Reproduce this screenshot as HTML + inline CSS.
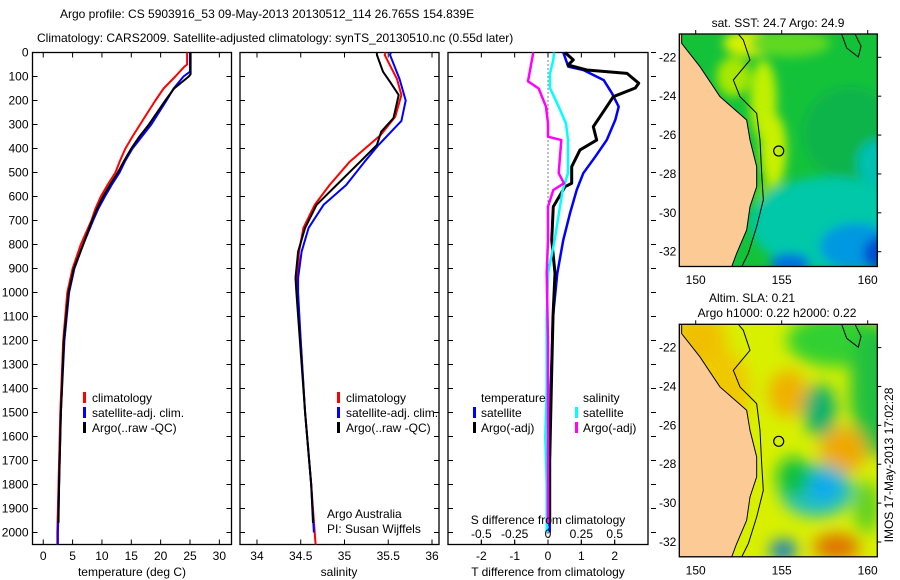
<!DOCTYPE html>
<html><head><meta charset="utf-8"><style>
html,body{margin:0;padding:0;background:#fff;}
svg{display:block;font-family:"Liberation Sans",sans-serif;}
text{font-size:12px;fill:#000;}
</style></head><body>
<svg id="c" width="900" height="580" viewBox="0 0 900 580" xmlns="http://www.w3.org/2000/svg">
<text x="60" y="18">Argo profile: CS 5903916_53 09-May-2013 20130512_114 26.765S 154.839E</text>
<text x="37" y="42">Climatology: CARS2009. Satellite-adjusted climatology: synTS_20130510.nc (0.55d later)</text>
<g id="maps"></g>
<g id="plots"></g>
</svg>
<script>
// ---- data ----
const depthTicks=[0,100,200,300,400,500,600,700,800,900,1000,1100,1200,1300,1400,1500,1600,1700,1800,1900,2000];
const tempTicks=[0,5,10,15,20,25,30];
const salTicks=[34,34.5,35,35.5,36];
const salTickLabels=["34","34.5","35","35.5","36"];
const dTTicks=[-2,-1,0,1,2];
const dSTicks=[-0.5,-0.25,0,0.25,0.5];
const dSTickLabels=["-0.5","-0.25","0","0.25","0.5"];

const tClimDepth=[0,50,60,100,150,200,250,300,350,400,450,500,550,600,650,700,800,900,1000,1200,1500,1800,2000,2050];
const tClim=[24.5,24.5,24.0,22.5,20.5,19.1,17.8,16.5,15.2,14.0,13.1,12.3,11.0,9.8,8.9,8.2,6.4,5.0,4.1,3.4,2.9,2.6,2.4,2.4];
const tSatDepth=[0,80,100,150,200,250,300,350,400,450,500,550,600,650,700,800,900,1000,1200,1500,1800,2000,2050];
const tSat=[25.0,25.0,23.9,22.2,21.0,19.7,18.4,16.8,15.2,14.0,13.0,11.7,10.5,9.4,8.5,6.8,5.3,4.4,3.6,3.0,2.7,2.5,2.5];
const tArgoDepth=[0,90,100,150,200,250,300,350,400,450,500,550,600,650,700,800,900,1000,1200,1500,1800,1960];
const tArgo=[25.1,25.1,24.8,22.3,20.8,19.4,18.0,16.4,15.0,13.8,12.7,11.4,10.2,9.2,8.3,6.8,5.2,4.3,3.5,3.0,2.7,2.6];

const sClimDepth=[0,10,111,177,268,345,455,552,635,731,830,940,1000,1200,1500,1800,2000,2050];
const sClim=[35.47,35.46,35.60,35.65,35.58,35.41,35.06,34.83,34.66,34.53,34.48,34.46,34.46,34.50,34.55,34.62,34.66,34.67];
const sSatDepth=[0,10,111,200,285,385,455,552,635,731,830,940,1000,1200,1500,1800,2000];
const sSat=[35.53,35.52,35.63,35.70,35.65,35.39,35.23,35.02,34.76,34.59,34.51,34.47,34.47,34.50,34.55,34.62,34.65];
const sArgoDepth=[0,10,80,122,177,273,330,385,455,552,635,731,830,940,1000,1200,1500,1800,1960];
const sArgo=[35.37,35.37,35.44,35.52,35.62,35.56,35.42,35.37,35.18,34.91,34.68,34.55,34.47,34.44,34.45,34.49,34.55,34.62,34.64];

const dTSatDepth=[0,59,73,115,170,226,281,365,434,503,573,670,781,920,1100,1400,1700,2000];
const dTSat=[0.46,0.61,1.06,1.67,1.92,2.12,2.02,1.76,1.42,1.06,0.86,0.66,0.46,0.28,0.15,0.08,0.05,0.05];
const dTArgoDepth=[0,31,52,73,87,128,148,184,226,309,365,406,476,545,559,642,781,920,1100,1400,1700,1960];
const dTArgo=[0.51,0.76,0.60,1.16,2.37,2.72,2.62,1.96,1.76,1.36,1.46,0.96,0.71,0.71,0.51,0.16,0.11,0.21,0.15,0.1,0.05,0.05];
const dSSatDepth=[0,31,87,148,226,296,365,503,573,642,781,920,1100,1400,1600,1800,2000];
const dSSat=[0.045,0.04,0.015,0.015,0.08,0.135,0.15,0.15,0.11,0.09,0.05,0.0,-0.01,-0.01,-0.02,-0.01,-0.01];
const dSArgoDepth=[0,59,120,150,226,296,351,365,503,545,573,642,781,920,1200,1500,1800,1960];
const dSArgo=[-0.11,-0.13,-0.15,-0.07,-0.015,0.0,0.0,0.10,0.08,0.12,0.04,0.0,0.0,-0.01,0.0,0.0,0.0,0.0];

// ---- helpers ----
const NS="http://www.w3.org/2000/svg";
function mk(tag,attrs,parent){const e=document.createElementNS(NS,tag);for(const k in attrs)e.setAttribute(k,attrs[k]);(parent||plots).appendChild(e);return e;}
const plots=document.getElementById('plots');
const maps=document.getElementById('maps');
const Y0=52.5,YB=544.5;
function yD(d){return Y0+d*0.24;}

function panel(name,left,right,xmin,xmax){
  const p={left,right,xmin,xmax,x:v=>left+(v-xmin)/(xmax-xmin)*(right-left)};
  const r=mk('rect',{x:left,y:Y0,width:right-left,height:YB-Y0,fill:'none',stroke:'#000','stroke-width':1.3});
  
  
  return p;
}
function line(p,xs,ds,color,w,name){
  let d='';
  for(let i=0;i<xs.length;i++){d+=(i?'L':'M')+p.x(xs[i]).toFixed(1)+','+yD(ds[i]).toFixed(1);}
  const e=mk('path',{d:d,fill:'none',stroke:color,'stroke-width':w,'stroke-linejoin':'round'});
  
  
}
function depthTicksOn(p,labels,outside){
  depthTicks.forEach(t=>{
    const y=yD(t);
    const t1=mk('line',{x1:p.left,x2:p.left+5,y1:y,y2:y,stroke:'#000'});
    
    
    const t2=outside?mk('line',{x1:p.right+3,x2:p.right+8,y1:y,y2:y,stroke:'#000'}):mk('line',{x1:p.right-5,x2:p.right,y1:y,y2:y,stroke:'#000'});
    
    
    if(labels){
      const tx=mk('text',{x:p.left-4,y:y+4,'text-anchor':'end'});tx.textContent=t;
      
      
    }
  });
}
function xTicks(p,ticks,labels,ylab,top){
  ticks.forEach((t,i)=>{
    const x=p.x(t);
    const a=mk('line',{x1:x,x2:x,y1:YB,y2:YB-5,stroke:'#000'});
    
    
    if(top){const b=mk('line',{x1:x,x2:x,y1:Y0,y2:Y0+5,stroke:'#000'});
      
      }
    const tx=mk('text',{x:x,y:ylab,'text-anchor':'middle'});tx.textContent=labels?labels[i]:t;
    
    
  });
}
function txt(x,y,s,name,anchor){const e=mk('text',{x:x,y:y,'text-anchor':anchor||'start'});e.textContent=s;
  
  return e;}
function legBar(x,y,color,name){const e=mk('rect',{x:x,y:y-10,width:3,height:11,fill:color});
  
  }

// Panel 1: temperature
const p1=panel('temperature-panel',32.5,231.5,-1.83,32.07);
line(p1,tClim,tClimDepth,'#f00',2,'temp-climatology-line');
line(p1,tSat,tSatDepth,'#00f',2,'temp-satellite-line');
line(p1,tArgo,tArgoDepth,'#000',2,'temp-argo-line');
depthTicksOn(p1,true,false);
xTicks(p1,tempTicks,null,560,true);
txt(132,576,'temperature (deg C)','x-axis-title-temperature','middle');
[['#f00','climatology'],['#00f','satellite-adj. clim.'],['#000','Argo(..raw -QC)']].forEach((l,i)=>{
  legBar(83,402+i*15,l[0],'legend-swatch');txt(92,402+i*15,l[1],'legend-entry');});

// Panel 2: salinity
const p2=panel('salinity-panel',240,439,33.806,36.08);
line(p2,sClim,sClimDepth,'#f00',2,'sal-climatology-line');
line(p2,sSat,sSatDepth,'#00f',2,'sal-satellite-line');
line(p2,sArgo,sArgoDepth,'#000',2,'sal-argo-line');
depthTicksOn(p2,false,false);
xTicks(p2,salTicks,salTickLabels,560,true);
txt(339,576,'salinity','x-axis-title-salinity','middle');
[['#f00','climatology'],['#00f','satellite-adj. clim.'],['#000','Argo(..raw -QC)']].forEach((l,i)=>{
  legBar(337,402+i*15,l[0],'legend-swatch');txt(346,402+i*15,l[1],'legend-entry');});
txt(327,518,'Argo Australia','credit-argo-australia');
txt(327,533,'PI: Susan Wijffels','credit-pi');

// Panel 3: differences
const p3=panel('difference-panel',448,648,-3.0,3.0);
const pS={x:v=>p3.x(v*4)};
for(let y=Y0;y<YB;y+=4){mk('rect',{x:p3.x(0)-0.5,y:y,width:1,height:1,fill:'#000'});}
line(p3,dTSat,dTSatDepth,'#00f',2.5,'dT-satellite-line');
line(p3,dTArgo,dTArgoDepth,'#000',3,'dT-argo-line');
line(pS,dSSat,dSSatDepth,'#0ff',2.5,'dS-satellite-line');
line(pS,dSArgo,dSArgoDepth,'#f0f',2.5,'dS-argo-line');
depthTicksOn(p3,false,true);
xTicks(p3,dTTicks,null,560,true);
dSTicks.forEach((t,i)=>{txt(pS.x(t),538,dSTickLabels[i],'s-tick-label','middle');
  mk('line',{x1:pS.x(t),x2:pS.x(t),y1:540,y2:544,stroke:'#000'});});
txt(548,524,'S difference from climatology','s-axis-title','middle');
txt(548,576,'T difference from climatology','t-axis-title','middle');
txt(481,402,'temperature','legend-header-temperature');
legBar(473,417,'#00f','legend-swatch');txt(481,417,'satellite','legend-entry');
legBar(473,432,'#000','legend-swatch');txt(481,432,'Argo(-adj)','legend-entry');
txt(583,402,'salinity','legend-header-salinity');
legBar(575,417,'#0ff','legend-swatch');txt(583,417,'satellite','legend-entry');
legBar(575,432,'#f0f','legend-swatch');txt(583,432,'Argo(-adj)','legend-entry');

// ---- maps ----
const mapL=679.3,mapR=877.3,mapW=198;
function lonX(l){return 695.7+(l-150)*17.2;}
const latTicks=[-22,-24,-26,-28,-30,-32];
const lonTicks=[150,155,160];
const coast=[[95,102],[95,130],[150,200],[210,290],[290,360],[300,420],[320,500],[320,560],[300,620],[290,690],[260,760],[245,800]];
const iso=[[265,102],[280,120],[300,180],[250,240],[270,290],[320,340],[330,420],[335,520],[340,600],[320,680],[295,760],[275,800]];
function drawMap(name,top,bg,blobs,blurAmt){
  const g=mk('g',{},maps);
  
  
  const id='clip'+top.toFixed(0);
  const cp=mk('clipPath',{id:id},g);mk('rect',{x:mapL,y:top,width:mapW,height:232.5},cp);
  const fid='blur'+top.toFixed(0);
  const f=mk('filter',{id:fid,x:'-50%',y:'-50%',width:'200%',height:'200%'},g);mk('feGaussianBlur',{stdDeviation:blurAmt},f);
  const inner=mk('g',{'clip-path':'url(#'+id+')'},g);
  mk('rect',{x:mapL,y:top,width:mapW,height:232.5,fill:bg},inner);
  const bg2=mk('g',{filter:'url(#'+fid+')'},inner);
  blobs.forEach(b=>mk('ellipse',{cx:650+b[0]/3,cy:top+(b[1]-102)/3,rx:b[2]/3,ry:b[3]/3,fill:b[4]},bg2));
  let d='M'+mapL+','+top;
  coast.forEach(c=>{d+='L'+(650+c[0]/3)+','+(top+(c[1]-102)/3);});
  d+='L'+mapL+','+(top+232.5)+'Z';
  const land=mk('path',{d:d,fill:'#fccb95',stroke:'#000','stroke-width':1},inner);
  
  
  let d2='';iso.forEach((c,i)=>{d2+=(i?'L':'M')+(650+c[0]/3)+','+(top+(c[1]-102)/3);});
  mk('path',{d:d2,fill:'none',stroke:'#000','stroke-width':1},inner);
  mk('path',{d:'M'+(650+575/3)+','+top+'L'+(650+590/3)+','+(top+14)+'L'+(650+625/3)+','+(top+23)+'L'+(650+633/3)+','+(top+12)+'L'+(650+615/3)+','+top,fill:'none',stroke:'#000'},inner);
  const ci=mk('circle',{cx:778.7,cy:top+117,r:5,fill:'none',stroke:'#000','stroke-width':1.2},inner);
  
  
  mk('rect',{x:mapL,y:top,width:mapW,height:232.5,fill:'none',stroke:'#000','stroke-width':1.3},g);
  latTicks.forEach(t=>{const y=top+23.3+(-22-t)*19.44;
    mk('line',{x1:mapR,x2:mapR+4,y1:y,y2:y,stroke:'#000'},g);
    const tx=mk('text',{x:mapL-3,y:y+4,'text-anchor':'end'},g);tx.textContent=t;
    
    });
  lonTicks.forEach(t=>{const x=lonX(t);
    mk('line',{x1:x,x2:x,y1:top-4,y2:top,stroke:'#000'},g);
    const tx=mk('text',{x:x,y:top+250,'text-anchor':'middle'},g);tx.textContent=t;
    
    });
}
drawMap('sst-map',34,'#14c23a',[
 [300,130,80,40,'#d8f000'],[250,230,50,60,'#a8e800'],[340,300,40,120,'#c0f000'],[370,450,40,110,'#c8f000'],[345,620,30,80,'#70d800'],
 [420,130,120,40,'#60d820'],[600,400,140,140,'#0cb448'],
 [540,670,240,140,'#00c8a8'],[680,490,60,70,'#00c0b0'],[620,740,110,70,'#0098e0'],
 [420,790,60,30,'#0070e0'],[690,760,50,50,'#0050d0']],5);
drawMap('sla-map',324.3,'#d8f000',[
 [150,150,80,80,'#f0c000'],[230,300,70,120,'#f0c800'],[415,310,60,70,'#f0b000'],[510,360,50,80,'#10b070'],
 [560,150,150,80,'#30d030'],[680,300,80,200,'#20c040'],[580,480,70,70,'#f0a800'],[500,600,110,80,'#20c0c0'],
 [520,590,50,40,'#10a8f0'],[430,560,50,60,'#10c040'],[560,770,70,40,'#e07000'],[400,780,40,30,'#0070e0'],[650,650,40,80,'#60d020']],8);
txt(778,27,'sat. SST: 24.7  Argo: 24.9','sst-map-title','middle');
txt(752,302,'Altim. SLA: 0.21','sla-map-title','middle');
txt(777,317,'Argo h1000: 0.22 h2000: 0.22','argo-height-title','middle');
const v=txt(0,0,'IMOS 17-May-2013 17:02:28','imos-timestamp','middle');
v.setAttribute('transform','translate(893,465) rotate(-90)');
</script>
</body></html>
